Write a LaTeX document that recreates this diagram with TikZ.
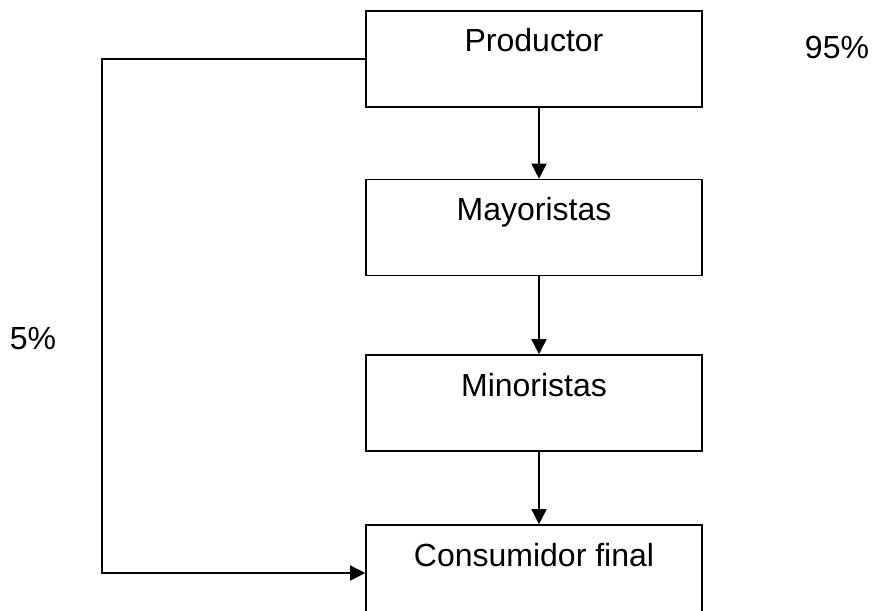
\documentclass[tikz,border=0pt]{standalone}
\usepackage{fontspec}
\setmainfont{Liberation Sans}
\usetikzlibrary{arrows.meta}
\begin{document}
\begin{tikzpicture}[x=1pt,y=-1pt,
  stagebox/.style={draw, line width=1.6pt, rectangle, inner sep=0pt,
    minimum width=336pt, text height=41pt, text depth=55pt,
    font=\fontsize{32}{38}\selectfont},
  flow/.style={line width=1.6pt, -{Triangle[length=15pt,width=15pt]}},
  pct/.style={font=\fontsize{32}{38}\selectfont, anchor=base, inner sep=0pt}]
\useasboundingbox (0,0) rectangle (872,610);
\clip (0,0) rectangle (872,610);
\node[stagebox] (prod) at (534,59) {Productor};
\node[stagebox] (may) at (534,227.5) {Mayoristas};
\node[stagebox] (min) at (534,403) {Minoristas};
\node[stagebox] (cons) at (534,573) {Consumidor final};
\node[pct] (p95) at (837,59) {95\%};
\node[pct] (p5) at (33,349) {5\%};
\draw[flow] ([xshift=5pt]prod.south) -- ([xshift=5pt]may.north);
\draw[flow] ([xshift=5pt]may.south) -- ([xshift=5pt]min.north);
\draw[flow] ([xshift=5pt]min.south) -- ([xshift=5pt]cons.north);
\coordinate (bend) at (102,59);
\draw[flow] (prod.west) -- (bend) |- (cons.west);
\end{tikzpicture}
\end{document}
